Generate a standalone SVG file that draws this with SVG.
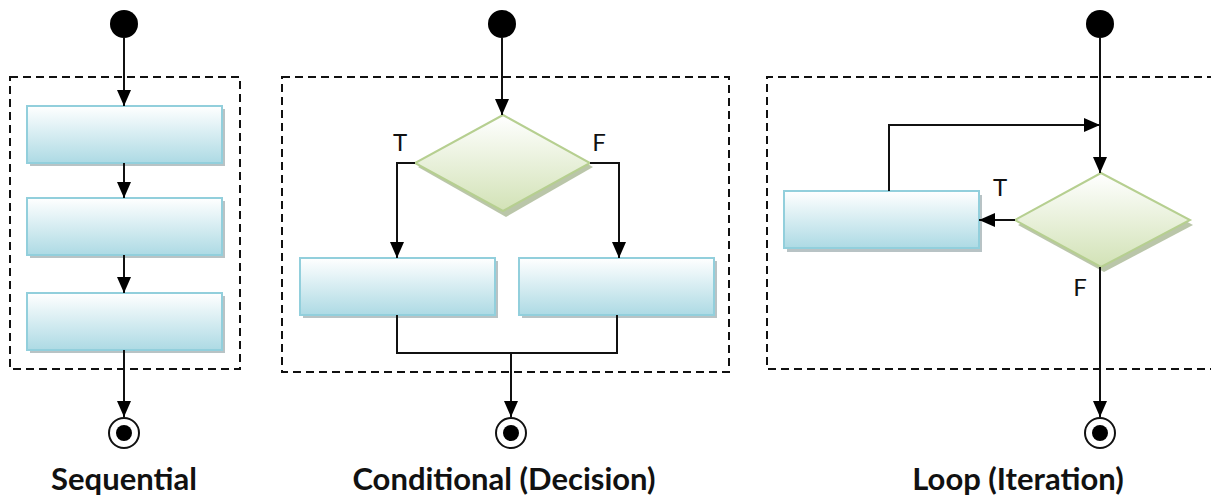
<svg xmlns="http://www.w3.org/2000/svg" width="1211" height="499" viewBox="0 0 1211 499">
<style>
.frame{fill:none;stroke:#111;stroke-width:2;stroke-dasharray:8 5}
.box{fill:url(#gBlue);stroke:#92cfdc;stroke-width:2}
.shadow{fill:#9aa9ad;opacity:0.7}
.dia{fill:url(#gGreen);stroke:#b6cf90;stroke-width:2}
.dshadow{fill:#a9b894;opacity:0.8}
.line{fill:none;stroke:#111;stroke-width:2}
.arr{fill:none;stroke:#111;stroke-width:2;marker-end:url(#ah)}
.lbl{font-family:Lato,"Open Sans",sans-serif;font-weight:bold;font-size:31px;fill:#111;text-anchor:middle}
.tf{font-family:Lato,"Open Sans",sans-serif;font-size:24px;fill:#111;text-anchor:middle}
</style>
<defs>
<linearGradient id="gBlue" x1="0" y1="0" x2="0" y2="1">
<stop offset="0" stop-color="#ffffff"/>
<stop offset="1" stop-color="#addae4"/>
</linearGradient>
<linearGradient id="gGreen" x1="0" y1="0" x2="0" y2="1">
<stop offset="0" stop-color="#ffffff"/>
<stop offset="1" stop-color="#d2e2b6"/>
</linearGradient>
<marker id="ah" viewBox="0 0 16 14" refX="16" refY="7" markerWidth="16" markerHeight="14" markerUnits="userSpaceOnUse" orient="auto">
<path d="M0,0 L16,7 L0,14 Z" fill="#000"/>
</marker>
</defs>

<!-- frames -->
<rect class="frame" x="10" y="77" width="230" height="292"/>
<rect class="frame" x="282" y="77" width="447" height="295"/>
<path class="frame" d="M1215,77 H767 V369 H1215"/>

<!-- Sequential -->
<g id="seq-start"><circle cx="124" cy="24" r="14" fill="#000"/></g>
<g id="seq-box1"><rect class="shadow" x="30" y="109" width="195" height="57"/><rect class="box" x="27" y="106" width="195" height="57"/></g>
<g id="seq-box2"><rect class="shadow" x="30" y="201" width="195" height="57"/><rect class="box" x="27" y="198" width="195" height="57"/></g>
<g id="seq-box3"><rect class="shadow" x="30" y="296" width="195" height="57"/><rect class="box" x="27" y="293" width="195" height="57"/></g>
<g id="seq-end"><circle cx="124" cy="433" r="15" fill="#fff" stroke="#111" stroke-width="2"/><circle cx="124" cy="433" r="8" fill="#000"/></g>

<!-- Conditional -->
<g id="cond-start"><circle cx="502" cy="24" r="14" fill="#000"/></g>
<g id="cond-dec"><path class="dshadow" d="M506,119 L593,167 L506,217 L418,167 Z"/><path class="dia" d="M503,115 L590,163 L503,211 L415,163 Z"/></g>
<g id="cond-box1"><rect class="shadow" x="303" y="261" width="195" height="57"/><rect class="box" x="300" y="258" width="195" height="57"/></g>
<g id="cond-box2"><rect class="shadow" x="522" y="261" width="195" height="57"/><rect class="box" x="519" y="258" width="195" height="57"/></g>
<g id="cond-end"><circle cx="511" cy="433" r="15" fill="#fff" stroke="#111" stroke-width="2"/><circle cx="511" cy="433" r="8" fill="#000"/></g>

<!-- Loop -->
<g id="loop-start"><circle cx="1100" cy="24" r="14" fill="#000"/></g>
<g id="loop-box"><rect class="shadow" x="787" y="195" width="195" height="57"/><rect class="box" x="784" y="191" width="195" height="57"/></g>
<g id="loop-dec"><path class="dshadow" d="M1104,177 L1193,225 L1104,272 L1018,225 Z"/><path class="dia" d="M1101,173 L1190,220 L1101,267 L1015,220 Z"/></g>
<g id="loop-end"><circle cx="1100" cy="433" r="15" fill="#fff" stroke="#111" stroke-width="2"/><circle cx="1100" cy="433" r="8" fill="#000"/></g>

<!-- connectors -->
<g id="connectors">
<path class="arr" d="M124,38 V106"/>
<path class="arr" d="M124,163 V198"/>
<path class="arr" d="M124,255 V293"/>
<path class="arr" d="M124,350 V417"/>

<path class="arr" d="M502,38 V115"/>
<path class="arr" d="M415,163 H397 V258"/>
<path class="arr" d="M590,163 H619 V258"/>
<path class="line" d="M397,315 V353 H617 V315"/>
<path class="arr" d="M511,353 V417"/>

<path class="arr" d="M1100,38 V173"/>
<path class="arr" d="M889,191 V125 H1100"/>
<path class="arr" d="M1015,220 H979"/>
<path class="arr" d="M1100,267 V417"/>
</g>

<!-- texts -->
<text class="tf" x="400" y="151">T</text>
<text class="tf" x="599" y="151">F</text>
<text class="tf" x="1000" y="196">T</text>
<text class="tf" x="1080" y="296">F</text>

<text class="lbl" x="124" y="490">Sequential</text>
<text class="lbl" x="504" y="490">Conditional (Decision)</text>
<text class="lbl" x="1018" y="490">Loop (Iteration)</text>
</svg>
